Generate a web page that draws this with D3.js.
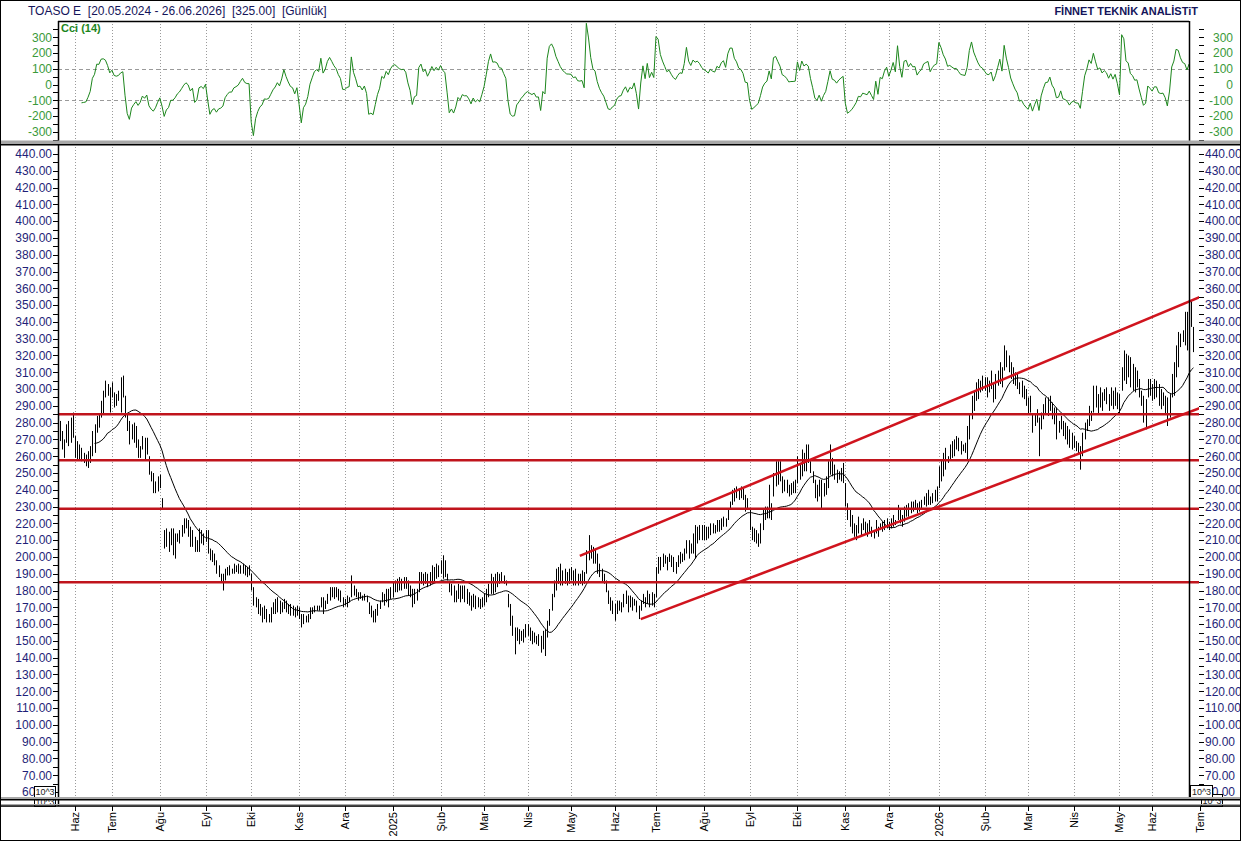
<!DOCTYPE html>
<html>
<head>
<meta charset="utf-8">
<title>TOASO E</title>
<script src="https://cdnjs.cloudflare.com/ajax/libs/d3/7.8.5/d3.min.js"></script>
<style>
  body { margin: 0; background: #fff; }
  svg text { font-family: "Liberation Sans", Arial, sans-serif; }
</style>
</head>
<body>
<div id="chart"></div>
<script>
// --- data -------------------------------------------------------------
var firstDay = "2024-05-20", lastAxisDay = "2026-07-03";
var holidays = ["2024-06-17","2024-06-18","2024-06-19","2024-07-15","2024-08-30","2024-10-29",
  "2025-01-01","2025-03-31","2025-04-01","2025-04-23","2025-05-01","2025-05-19","2025-06-06",
  "2025-06-09","2025-07-15","2025-10-29","2026-01-01","2026-03-20","2026-04-23","2026-05-01",
  "2026-05-19","2026-05-26","2026-05-27","2026-05-28","2026-05-29"];

// daily high / low / close, one row per month
var high = [
  282,280,278,281,275,270,279,281,283,286,
  272,269,267,265,262,261,263,266,275,279,284,285,293,299,305,303,301,
  304,298,297,299,307,308,296,285,281,279,280,278,270,266,272,271,271,260,251,250,245,248,
  249,235,216,217,215,217,217,214,214,216,219,223,223,222,218,216,212,210,217,216,214,
  216,216,205,204,202,198,195,190,190,193,194,195,193,196,195,196,195,196,195,194,195,
  190,182,176,175,172,170,171,169,166,170,173,175,176,174,173,175,174,172,172,171,170,171,
  170,166,166,165,166,170,170,171,171,171,176,176,174,178,182,182,182,182,181,180,176,
  175,177,176,189,183,181,179,179,177,178,177,173,171,168,169,172,174,179,178,181,181,182,
  185,186,187,188,187,188,188,186,183,181,181,181,191,191,190,191,190,191,195,194,196,195,
  198,201,198,190,185,184,183,180,184,183,183,183,181,179,177,178,177,176,175,176,
  178,181,184,190,188,190,191,190,191,189,186,178,172,165,158,158,157,156,157,160,
  160,158,156,155,153,154,153,156,157,162,169,178,186,193,194,196,192,193,191,193,
  194,192,193,190,190,192,191,204,213,207,206,205,202,196,193,190,186,180,176,174,
  172,174,174,173,178,180,177,177,176,175,174,171,174,178,176,180,178,179,178,
  194,200,200,202,201,200,202,201,200,197,201,203,202,205,210,210,208,214,219,218,219,219,
  219,218,218,220,220,219,222,222,223,224,223,228,233,240,241,242,241,242,241,237,235,
  228,218,217,216,214,220,228,230,230,243,232,250,257,257,257,248,246,246,243,244,245,246,
  260,256,264,262,267,267,257,251,246,243,246,246,244,248,257,267,259,255,252,251,253,256,
  244,232,228,225,220,219,224,220,223,221,220,222,218,216,222,218,220,221,222,223,
  221,223,225,222,231,228,225,230,231,232,233,233,234,232,233,234,236,238,240,236,238,240,242,
  254,258,262,265,260,267,269,270,272,271,269,267,268,278,285,296,299,304,306,305,308,
  307,307,305,311,303,309,311,316,313,326,323,320,316,313,310,309,304,305,302,300,
  295,296,285,285,288,283,286,291,295,295,296,292,289,289,281,284,281,280,278,276,274,
  272,269,268,266,274,280,282,290,287,302,302,297,301,298,300,301,297,301,299,301,298,
  297,313,323,321,320,319,315,313,311,306,299,296,294,306,306,
  303,306,305,303,300,298,296,295,297,309,316,326,334,333,335,346,346,358,353,337
];
var low = [
  272,270,268,269,264,259,268,266,268,271,
  259,258,258,257,256,254,253,256,260,262,274,277,283,285,295,296,286,
  295,289,290,293,286,295,283,275,267,270,268,265,259,259,264,258,261,249,245,238,238,239,
  241,228,205,206,203,207,201,199,209,208,212,214,217,212,206,206,203,203,203,208,207,
  209,202,198,197,195,190,188,185,180,186,189,189,190,190,191,190,190,190,189,188,189,
  180,171,170,166,165,161,163,161,161,161,166,166,167,166,167,169,167,166,165,165,164,165,
  163,158,160,161,161,163,166,167,168,168,170,166,169,172,174,176,175,176,174,173,170,
  171,170,173,176,177,176,174,175,174,174,173,166,164,161,161,165,169,173,171,173,170,175,
  176,179,179,180,180,181,181,177,176,170,172,174,179,184,183,184,182,183,184,185,187,188,
  190,187,188,186,179,177,173,173,175,173,175,173,172,171,168,170,169,170,169,170,
  171,173,176,178,178,179,182,184,185,184,183,170,159,153,142,150,148,150,149,152,
  153,150,148,149,148,147,143,145,141,152,159,168,176,180,184,183,183,184,183,184,
  186,183,183,183,184,183,184,190,198,199,196,196,190,188,185,184,179,172,168,166,
  162,166,168,167,170,172,167,170,168,171,167,163,168,172,170,172,170,171,170,
  176,190,192,194,196,192,197,194,191,190,194,196,197,198,202,199,202,202,199,208,210,210,
  210,210,211,213,214,214,215,215,216,218,218,222,228,231,233,235,234,235,234,227,228,
  216,210,209,208,206,208,216,222,223,223,222,236,242,243,245,238,239,238,236,237,238,238,
  244,246,248,251,251,256,250,244,235,233,236,229,236,237,241,249,248,246,244,246,245,244,
  230,222,218,214,212,210,214,213,216,214,212,214,212,211,214,212,216,215,216,217,
  216,217,218,219,222,220,218,221,224,224,226,227,228,226,227,228,231,230,231,231,232,233,233,
  241,245,248,252,256,258,259,260,264,263,261,263,262,258,270,282,287,293,294,298,299,
  299,295,298,300,292,294,302,303,301,311,313,310,306,303,302,300,297,295,294,290,
  285,286,274,278,280,260,276,282,285,284,287,282,279,270,274,276,272,270,267,265,264,
  265,263,261,252,260,270,275,278,281,286,289,285,289,287,293,291,287,290,288,290,288,
  285,299,305,303,307,301,299,298,301,295,290,280,276,295,296,
  293,294,295,290,288,290,285,278,283,295,296,307,313,325,328,326,323,342,337,322
];
var close = [
  276,274,272,276,267,262,276,270,278,274,
  262,261,260,259,258,256,260,263,272,276,281,283,290,297,300,299,290,
  297,293,295,296,304,297,285,277,270,276,271,273,261,263,268,262,266,251,247,241,243,241,
  243,230,208,212,206,214,204,210,211,214,217,220,219,214,209,212,205,207,213,210,212,
  213,205,200,199,197,192,190,187,186,191,191,193,191,194,193,192,194,193,191,192,190,
  182,173,172,168,166,163,168,163,162,168,170,172,174,168,171,173,170,169,167,168,166,169,
  165,160,163,162,165,168,169,170,170,169,174,168,172,176,180,178,179,178,176,175,172,
  173,175,175,185,179,178,177,176,176,177,174,168,166,163,167,170,172,177,176,179,178,180,
  183,184,185,183,185,186,184,179,178,173,179,178,188,189,186,188,185,189,193,190,194,192,
  195,190,191,187,181,182,176,178,182,176,180,177,178,174,171,175,173,174,172,174,
  176,179,182,186,184,187,189,187,189,186,184,172,163,157,150,153,151,153,155,156,
  157,152,150,153,150,151,146,152,154,160,166,176,184,185,190,187,189,186,188,190,
  190,186,189,187,188,189,188,201,203,204,199,201,193,190,188,186,181,175,171,169,
  165,170,171,170,175,176,170,173,172,173,169,165,172,176,173,178,174,176,175,
  190,196,197,199,198,195,200,196,193,195,199,201,199,203,208,206,205,211,214,215,216,214,
  214,216,214,218,216,217,220,218,221,222,220,226,231,238,236,240,237,239,236,229,231,
  219,213,211,211,209,217,225,226,227,238,227,247,252,250,249,241,243,240,238,241,242,244,
  256,250,260,258,262,260,252,246,238,236,242,234,241,245,253,262,250,252,248,249,250,252,
  232,225,220,217,214,213,221,216,220,217,214,219,214,213,220,215,218,217,220,221,
  219,220,222,220,229,223,221,227,229,226,231,230,232,228,231,232,234,236,238,234,236,238,240,
  250,255,257,262,258,264,266,267,269,266,264,265,266,275,282,293,296,300,302,301,305,
  303,300,302,308,296,305,309,312,306,322,318,316,310,308,305,304,300,299,297,294,
  288,290,277,282,285,265,282,288,292,290,293,285,283,276,278,280,275,273,270,268,270,
  268,265,263,258,270,276,279,286,283,298,292,290,296,291,297,295,290,297,292,296,293,
  290,310,318,308,315,305,310,304,306,299,293,285,290,303,300,
  298,300,298,293,294,292,290,283,294,305,312,322,330,328,331,340,329,348,341,325
];

var levels = [285, 257.6, 228.7, 185];           // horizontal support/resistance
var channelStart = ["2025-05-08", "2025-06-20"];   // upper, lower
var channelStartPrice = [200.6, 163];
var channelEnd = ["2026-07-01", "2026-07-01"];
var channelEndPrice = [354.8, 288.7];
var cursorDay = "2026-06-24";

var monthNames = ["Oca","Şub","Mar","Nis","May","Haz","Tem","Ağu","Eyl","Eki","Kas","Ara"];
var priceTicks = d3.range(60, 441, 10);
var priceMinor = d3.range(60, 441, 5);
var cciLabels = d3.range(-300, 301, 100);
var cciMinor = d3.range(-350, 351, 50);

// --- trading calendar ---------------------------------------------------
var parse = d3.utcParse("%Y-%m-%d"), fmt = d3.utcFormat("%Y-%m-%d");
var hol = new Set(holidays);
var days = d3.utcDays(parse(firstDay), d3.utcDay.offset(parse(lastAxisDay), 1))
  .filter(function(d) { return d.getUTCDay() % 6 !== 0 && !hol.has(fmt(d)); });
var dayIndex = {};
days.forEach(function(d, i) { dayIndex[fmt(d)] = i; });
var N = Math.min(high.length, low.length, close.length);

// --- indicators -----------------------------------------------------------
var ma = close.map(function(c, i) {
  return i < 19 ? null : d3.mean(close.slice(i - 19, i + 1));
});
var tp = high.map(function(h, i) { return (h + low[i] + close[i]) / 3; });
var cci = tp.map(function(v, i) {
  if (i < 13) return null;
  var w = tp.slice(i - 13, i + 1), m = d3.mean(w);
  var md = d3.mean(w, function(d) { return Math.abs(d - m); });
  return md ? (v - m) / (0.015 * md) : 0;
});

// --- layout -------------------------------------------------------------
var W = 1241, H = 841;
var L = 58, R = 1199, Rc = 1189;
var cTop = 21, cBot = 141, mTop = 145, mBot = 797;

var x = d3.scaleLinear().domain([0, dayIndex["2026-07-01"]]).range([53.2, 1200]);
var y = d3.scaleLinear().domain([60, 440]).range([792, 154]);
var yc = d3.scaleLinear().domain([-300, 300]).range([131.7, 37.3]);

var navy = "#1f1f78", green = "#3a9a3a";

var svg = d3.select("#chart").append("svg").attr("width", W).attr("height", H);
svg.append("rect").attr("width", W).attr("height", H).attr("fill", "#fff");

var defs = svg.append("defs");
defs.append("clipPath").attr("id", "clipMain").append("rect")
  .attr("x", L).attr("y", mTop).attr("width", R - L).attr("height", mBot - mTop);
defs.append("clipPath").attr("id", "clipCci").append("rect")
  .attr("x", L).attr("y", cTop).attr("width", Rc - L).attr("height", cBot - cTop);

// header
svg.append("text").attr("x", 28).attr("y", 14.5).attr("font-size", 12).attr("fill", "#14145a")
  .attr("xml:space", "preserve")
  .text("TOASO E  [20.05.2024 - 26.06.2026]  [325.00]  [Günlük]");
svg.append("text").attr("x", 1198).attr("y", 14.5).attr("font-size", 11).attr("font-weight", "bold")
  .attr("text-anchor", "end").attr("fill", "#14145a").text("FİNNET TEKNİK ANALİSTiT");

// month ticks
var monthTicks = [];
days.forEach(function(d, i) {
  if (i > 0 && d.getUTCMonth() !== days[i - 1].getUTCMonth()) monthTicks.push(i);
});
monthTicks = monthTicks.filter(function(i) { return x(i) <= 1201; });

// grid
var grid = svg.append("g");
monthTicks.filter(function(i) { return x(i) < Rc - 3; }).forEach(function(i) {
  var gx = Math.round(x(i)) + 0.5;
  grid.append("line").attr("x1", gx).attr("x2", gx).attr("y1", cTop).attr("y2", mBot)
    .attr("stroke", "#9a9a9a").attr("stroke-dasharray", "1,2");
});

// --- CCI panel ---
var cciG = svg.append("g");
[100, -100].forEach(function(v) {
  cciG.append("line").attr("x1", L).attr("x2", Rc).attr("y1", Math.round(yc(v)) + 0.5).attr("y2", Math.round(yc(v)) + 0.5)
    .attr("stroke", "#9a9a9a").attr("stroke-dasharray", "4,3");
});
cciG.append("path").datum(cci.slice(0, N))
  .attr("clip-path", "url(#clipCci)")
  .attr("fill", "none").attr("stroke", "#1c861c").attr("stroke-width", 1)
  .attr("d", d3.line().defined(function(d) { return d !== null; })
    .x(function(d, i) { return x(i); }).y(function(d) { return yc(d); }));
cciG.append("text").attr("x", 61).attr("y", 31.5).attr("font-size", 11).attr("font-weight", "bold")
  .attr("fill", "#1c861c").text("Cci (14)");

cciMinor.forEach(function(v) {
  var ty = Math.round(yc(v)) + 0.5;
  cciG.append("line").attr("x1", L - 5).attr("x2", L).attr("y1", ty).attr("y2", ty).attr("stroke", "#000");
  cciG.append("line").attr("x1", R).attr("x2", R + 5).attr("y1", ty).attr("y2", ty).attr("stroke", "#000");
});
cciLabels.forEach(function(v) {
  cciG.append("text").attr("x", 52).attr("y", yc(v)).attr("dy", "0.36em").attr("text-anchor", "end")
    .attr("font-size", 12).attr("fill", green).text(v);
  cciG.append("text").attr("x", 1233).attr("y", yc(v)).attr("dy", "0.36em").attr("text-anchor", "end")
    .attr("font-size", 12).attr("fill", green).text(v);
});

// --- price panel ---
var main = svg.append("g").attr("clip-path", "url(#clipMain)");
main.selectAll("line.bar").data(high.slice(0, N)).enter().append("line")
  .attr("class", "bar")
  .attr("x1", function(d, i) { return Math.round(x(i)) + 0.5; })
  .attr("x2", function(d, i) { return Math.round(x(i)) + 0.5; })
  .attr("y1", function(d) { return y(d); })
  .attr("y2", function(d, i) { return y(low[i]); })
  .attr("stroke", "#000").attr("stroke-width", 1);

main.append("path").datum(ma.slice(0, N))
  .attr("fill", "none").attr("stroke", "#000").attr("stroke-width", 1)
  .attr("d", d3.line().defined(function(d) { return d !== null; })
    .x(function(d, i) { return x(i); }).y(function(d) { return y(d); }));

main.selectAll("line.level").data(levels).enter().append("line")
  .attr("class", "level")
  .attr("x1", L).attr("x2", R)
  .attr("y1", function(d) { return y(d); }).attr("y2", function(d) { return y(d); })
  .attr("stroke", "#c0141c").attr("stroke-width", 2.5);

main.selectAll("line.chan").data(channelStart).enter().append("line")
  .attr("class", "chan")
  .attr("x1", function(d) { return x(dayIndex[d]); })
  .attr("y1", function(d, i) { return y(channelStartPrice[i]); })
  .attr("x2", function(d, i) { return x(dayIndex[channelEnd[i]]); })
  .attr("y2", function(d, i) { return y(channelEndPrice[i]); })
  .attr("stroke", "#d0141e").attr("stroke-width", 2.5);

priceMinor.forEach(function(v) {
  var ty = Math.round(y(v)) + 0.5;
  svg.append("line").attr("x1", L - 5).attr("x2", L).attr("y1", ty).attr("y2", ty).attr("stroke", "#000");
  svg.append("line").attr("x1", R).attr("x2", R + 5).attr("y1", ty).attr("y2", ty).attr("stroke", "#000");
});
priceTicks.forEach(function(v) {
  svg.append("text").attr("x", 52).attr("y", y(v)).attr("dy", "0.36em").attr("text-anchor", "end")
    .attr("font-size", 12).attr("fill", navy).text(v.toFixed(2));
  svg.append("text").attr("x", 1205).attr("y", y(v)).attr("dy", "0.36em")
    .attr("font-size", 12).attr("fill", navy).text(v.toFixed(2));
});

// borders
svg.append("line").attr("x1", L + 0.5).attr("x2", L + 0.5).attr("y1", cTop).attr("y2", 806).attr("stroke", "#000").attr("stroke-width", 1.5);
svg.append("line").attr("x1", L).attr("x2", Rc).attr("y1", cTop + 0.5).attr("y2", cTop + 0.5).attr("stroke", "#000").attr("stroke-width", 1.5);
var cx = Math.round(x(dayIndex[cursorDay])) + 0.5;
svg.append("line").attr("x1", cx).attr("x2", cx).attr("y1", cTop).attr("y2", mBot).attr("stroke", "#000").attr("stroke-width", 1.5);

// 10^3 boxes
function box(bx, by, bw, bh) {
  svg.append("rect").attr("x", bx + 0.5).attr("y", by + 0.5).attr("width", bw).attr("height", bh)
    .attr("fill", "#fff").attr("stroke", "#000");
  svg.append("text").attr("x", bx + bw / 2 + 0.5).attr("y", by + bh / 2 + 0.5).attr("dy", "0.36em")
    .attr("text-anchor", "middle").attr("font-size", 9).attr("fill", "#222").text("10^3");
}
box(34, 797, 21, 9);
box(34, 786, 21, 11);
box(1201, 794, 21, 12);
box(1190, 785, 22, 12);

// separators
function sep(yy, h) {
  svg.append("rect").attr("x", 0).attr("y", yy).attr("width", W).attr("height", h).attr("fill", "#a8a8a8");
  svg.append("rect").attr("x", 0).attr("y", yy + h).attr("width", W).attr("height", 1.5).attr("fill", "#000");
}
sep(140.5, 3.5);
sep(797, 2);
sep(804, 1.3);

// x axis
monthTicks.forEach(function(i) {
  var d = days[i], tx = Math.round(x(i)) + 0.5;
  svg.append("line").attr("x1", tx).attr("x2", tx).attr("y1", 806).attr("y2", 811).attr("stroke", "#000");
  svg.append("text").attr("transform", "translate(" + tx + ",812) rotate(-90)")
    .attr("dy", "0.36em").attr("text-anchor", "end").attr("font-size", 11).attr("fill", "#000")
    .text(d.getUTCMonth() === 0 ? d.getUTCFullYear() : monthNames[d.getUTCMonth()]);
});

// frame
svg.append("rect").attr("x", 0.5).attr("y", 0.5).attr("width", W - 1).attr("height", H - 1)
  .attr("fill", "none").attr("stroke", "#000");
</script>
</body>
</html>
